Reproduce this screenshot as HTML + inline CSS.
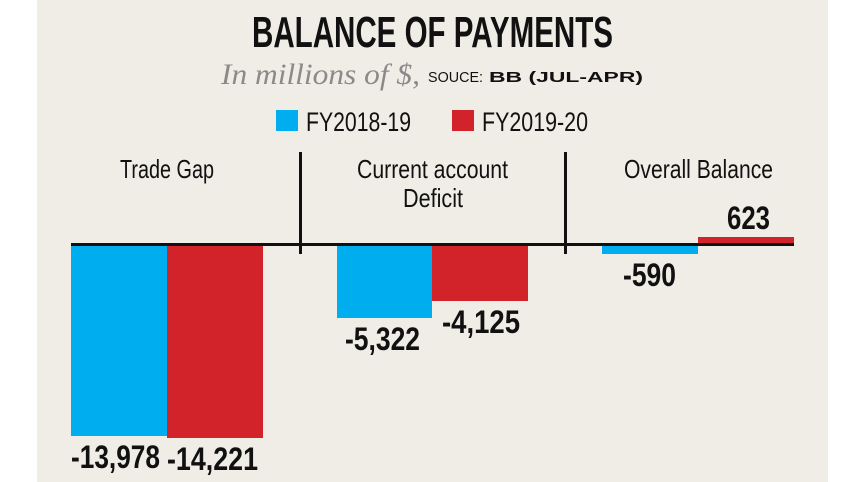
<!DOCTYPE html>
<html><head><meta charset="utf-8"><style>
html,body{margin:0;padding:0;background:#fff;}
svg{display:block;}
</style></head><body>
<svg width="857" height="482" viewBox="0 0 857 482" xmlns="http://www.w3.org/2000/svg">
<rect x="37" y="0" width="791" height="482" fill="#f0ede6"/>
<g font-family="Liberation Sans Narrow, Liberation Sans, sans-serif" fill="#111">
<text x="252" y="47" font-size="44" font-weight="bold" textLength="361" lengthAdjust="spacingAndGlyphs">BALANCE OF PAYMENTS</text>
<text x="221" y="84" font-size="30" font-style="italic" font-family="Liberation Serif, serif" fill="#8a8a8a" textLength="199" lengthAdjust="spacingAndGlyphs">In millions of $,</text>
<text x="428" y="82" font-size="15" font-family="Liberation Sans, sans-serif" textLength="55" lengthAdjust="spacingAndGlyphs">SOUCE:</text>
<text x="489" y="82" font-size="15" font-weight="bold" font-family="Liberation Sans, sans-serif" textLength="154" lengthAdjust="spacingAndGlyphs">BB (JUL-APR)</text>
<rect x="276" y="110" width="22" height="21" fill="#00aeef"/>
<text x="306" y="131" font-size="27" textLength="105" lengthAdjust="spacingAndGlyphs">FY2018-19</text>
<rect x="452" y="110" width="22" height="21" fill="#d2232a"/>
<text x="482" y="131" font-size="27" textLength="106" lengthAdjust="spacingAndGlyphs">FY2019-20</text>
<text x="120" y="178" font-size="26" textLength="94" lengthAdjust="spacingAndGlyphs">Trade Gap</text>
<text x="357" y="178" font-size="26" textLength="151" lengthAdjust="spacingAndGlyphs">Current account</text>
<text x="403" y="207" font-size="26" textLength="60" lengthAdjust="spacingAndGlyphs">Deficit</text>
<text x="624" y="178" font-size="26" textLength="149" lengthAdjust="spacingAndGlyphs">Overall Balance</text>
<rect x="71" y="245" width="96" height="191" fill="#00aeef"/>
<rect x="167" y="245" width="96" height="193" fill="#d2232a"/>
<rect x="337" y="245" width="95" height="73" fill="#00aeef"/>
<rect x="432" y="245" width="96" height="56" fill="#d2232a"/>
<rect x="602" y="245" width="96" height="9" fill="#00aeef"/>
<rect x="698" y="237" width="96" height="8" fill="#d2232a"/>
<rect x="71" y="243" width="723" height="3" fill="#111"/>
<rect x="299" y="152" width="3" height="102" fill="#111"/>
<rect x="564" y="152" width="3" height="102" fill="#111"/>
<text x="71" y="468" font-size="32" font-weight="bold" textLength="89" lengthAdjust="spacingAndGlyphs">-13,978</text>
<text x="167" y="470" font-size="32" font-weight="bold" textLength="91" lengthAdjust="spacingAndGlyphs">-14,221</text>
<text x="345" y="350" font-size="32" font-weight="bold" textLength="75" lengthAdjust="spacingAndGlyphs">-5,322</text>
<text x="442" y="333" font-size="32" font-weight="bold" textLength="78" lengthAdjust="spacingAndGlyphs">-4,125</text>
<text x="623" y="286" font-size="32" font-weight="bold" textLength="53" lengthAdjust="spacingAndGlyphs">-590</text>
<text x="727" y="229" font-size="32" font-weight="bold" textLength="43" lengthAdjust="spacingAndGlyphs">623</text>
</g>
</svg>
</body></html>
